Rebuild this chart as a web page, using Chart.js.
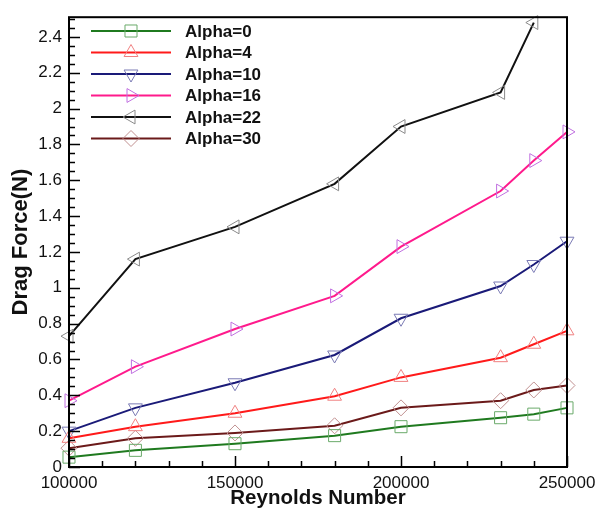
<!DOCTYPE html>
<html>
<head>
<meta charset="utf-8">
<script src="https://cdn.jsdelivr.net/npm/chart.js@4"></script>
<style>
html,body{margin:0;padding:0;background:#fff;}
#wrap{position:relative;width:607px;height:513px;}
</style>
</head>
<body>
<div id="wrap"><canvas id="c" width="607" height="513"></canvas></div>
<script>
// ---- data ----
const reynolds = [100000, 120000, 150000, 180000, 200000, 230000, 240000, 250000];
const alpha0  = [0.055, 0.093, 0.13, 0.175, 0.225, 0.275, 0.295, 0.33];
const alpha4  = [0.16, 0.225, 0.30, 0.395, 0.50, 0.61, 0.685, 0.76];
const alpha10 = [0.20, 0.33, 0.47, 0.625, 0.83, 1.01, 1.13, 1.26];
const alpha16 = [0.37, 0.56, 0.77, 0.955, 1.23, 1.54, 1.71, 1.87];
const alpha22 = [0.73, 1.16, 1.34, 1.58, 1.90, 2.09, 2.48];
const alpha30 = [0.105, 0.16, 0.19, 0.23, 0.33, 0.37, 0.43, 0.455];
const seriesLabels = ['Alpha=0', 'Alpha=4', 'Alpha=10', 'Alpha=16', 'Alpha=22', 'Alpha=30'];
const yTicks = [0, 0.2, 0.4, 0.6, 0.8, 1, 1.2, 1.4, 1.6, 1.8, 2, 2.2, 2.4];
const xTicks = [100000, 150000, 200000, 250000];

const lineColors   = ['#1f7a1f', '#ff1a1a', '#1a1a78', '#ff1a8c', '#111111', '#6b1a1a'];
const markerColors = ['#6aaa6a', '#f08080', '#7a7ab4', '#c070e0', '#8a8a8a', '#c09090'];
const markerStyles = ['rect', 'triangle', 'triangle', 'triangle', 'triangle', 'rectRot'];
const markerRot    = [0, 0, 180, 90, 270, 0];
const allSeries = [alpha0, alpha4, alpha10, alpha16, alpha22, alpha30];

const FONT = '"Liberation Sans", Arial, sans-serif';

const datasets = allSeries.map((vals, i) => ({
  label: seriesLabels[i],
  data: vals.map((v, k) => ({x: reynolds[k], y: v})),
  borderColor: lineColors[i],
  borderWidth: 2,
  pointStyle: markerStyles[i],
  pointRotation: markerRot[i],
  pointRadius: markerStyles[i] === 'rect' ? 8.5 : 8,
  pointBorderColor: markerColors[i],
  pointBackgroundColor: 'rgba(0,0,0,0)',
  pointBorderWidth: 1,
  tension: 0,
  clip: false
}));

const frame = {
  id: 'frame',
  afterDraw(chart) {
    const ctx = chart.ctx, a = chart.chartArea;
    const xs = chart.scales.x, ys = chart.scales.y;
    ctx.save();
    ctx.strokeStyle = '#000';
    ctx.lineWidth = 2;
    ctx.strokeRect(a.left, a.top, a.right - a.left, a.bottom - a.top);
    ctx.lineWidth = 1.5;
    ctx.beginPath();
    // y ticks (inward)
    for (let v = 0; v <= 2.5001; v += 0.05) {
      const vv = Math.round(v * 100) / 100;
      const major = Math.abs(vv / 0.2 - Math.round(vv / 0.2)) < 1e-6;
      const y = Math.round(ys.getPixelForValue(vv)) + 0.5;
      if (y < a.top + 2) continue;
      ctx.moveTo(a.left, y);
      ctx.lineTo(a.left + (major ? 11 : 6), y);
    }
    // x ticks (inward)
    for (let v = 100000; v <= 250000; v += 10000) {
      const major = v % 50000 === 0;
      const x = Math.round(xs.getPixelForValue(v)) + 0.5;
      ctx.moveTo(x, a.bottom);
      ctx.lineTo(x, a.bottom - (major ? 11 : 6));
    }
    ctx.stroke();
    // legend
    const rows = [31, 52.5, 74, 95.5, 117, 138.5];
    ctx.font = 'bold 17px ' + FONT;
    ctx.textBaseline = 'middle';
    ctx.textAlign = 'left';
    rows.forEach((y, i) => {
      ctx.strokeStyle = lineColors[i];
      ctx.lineWidth = 2;
      ctx.beginPath();
      ctx.moveTo(91, y);
      ctx.lineTo(171, y);
      ctx.stroke();
      ctx.strokeStyle = markerColors[i];
      ctx.fillStyle = 'rgba(0,0,0,0)';
      ctx.lineWidth = 1;
      Chart.helpers.drawPoint(ctx, {
        pointStyle: markerStyles[i],
        rotation: markerRot[i],
        radius: markerStyles[i] === 'rect' ? 8.5 : 8,
        borderWidth: 1
      }, 131, y);
      ctx.fillStyle = '#111';
      ctx.fillText(seriesLabels[i], 185, y + 1);
    });
    ctx.restore();
  }
};

new Chart(document.getElementById('c'), {
  type: 'line',
  data: {datasets},
  plugins: [frame],
  options: {
    responsive: false,
    animation: false,
    layout: {padding: {left: 0, right: 40, top: 9, bottom: 0}},
    plugins: {legend: {display: false}, tooltip: {enabled: false}},
    scales: {
      x: {
        type: 'linear',
        min: 100000,
        max: 250000,
        afterBuildTicks(s) { s.ticks = xTicks.map(v => ({value: v})); },
        afterFit(s) { s.height = 46; },
        grid: {display: false, drawTicks: false},
        border: {display: false},
        ticks: {
          padding: 6,
          color: '#111',
          font: {family: FONT, size: 17},
          maxRotation: 0,
          callback: v => String(v)
        },
        title: {
          display: true,
          text: 'Reynolds Number',
          color: '#111',
          font: {family: FONT, size: 20.5, weight: 'bold'},
          padding: {top: 0, bottom: 2}
        }
      },
      y: {
        type: 'linear',
        min: 0,
        max: 2.51,
        afterBuildTicks(s) { s.ticks = yTicks.map(v => ({value: v})); },
        afterFit(s) { s.width = 69; },
        grid: {display: false, drawTicks: false},
        border: {display: false},
        ticks: {
          padding: 7,
          color: '#111',
          font: {family: FONT, size: 17},
          callback: v => String(v)
        },
        title: {
          display: true,
          text: 'Drag Force(N)',
          color: '#111',
          font: {family: FONT, size: 22, weight: 'bold'},
          padding: {top: 8, bottom: 0}
        }
      }
    }
  }
});
</script>
</body>
</html>
